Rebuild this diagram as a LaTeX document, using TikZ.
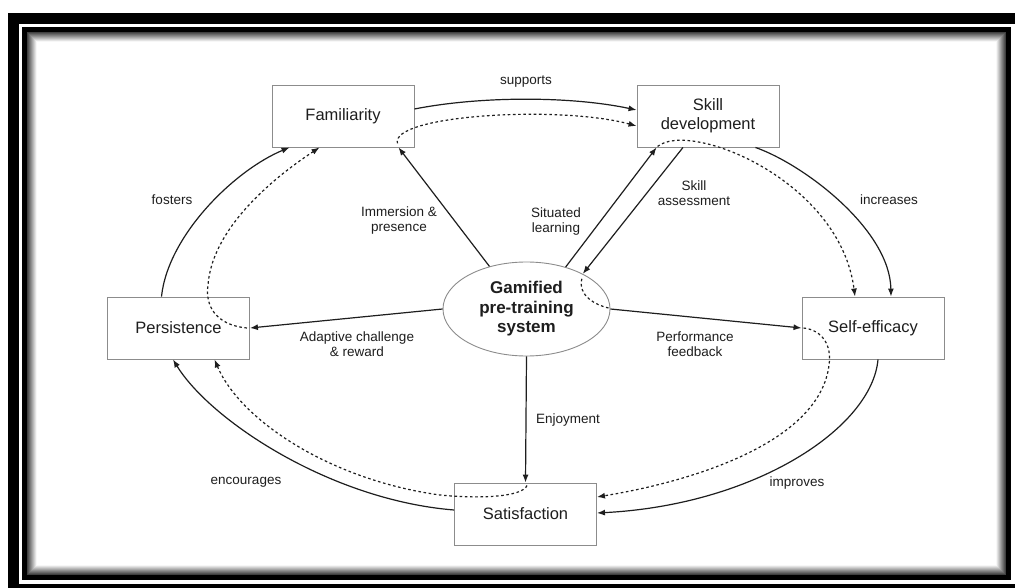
\documentclass[tikz,border=0pt]{standalone}
\usepackage{fontspec}
\setmainfont{Liberation Sans}
\usetikzlibrary{shapes.geometric,arrows.meta,calc}
\definecolor{ink}{HTML}{1E1E1E}
\definecolor{boxline}{HTML}{8C8C8C}
\tikzset{
  box/.style={draw=boxline,line width=0.9pt,minimum width=142pt,minimum height=62pt,inner sep=0pt,
    align=center,text=ink,font=\fontsize{16.5}{19}\selectfont},
  lbl/.style={align=center,text=ink,font=\fontsize{13.5}{15}\selectfont,inner sep=0pt},
  link/.style={draw=ink,line width=1.2pt,-{Latex[length=8pt,width=6pt]}},
  dlink/.style={draw=ink,line width=1.2pt,dash pattern=on 2.6pt off 2.6pt,-{Latex[length=8pt,width=6pt]}},
  dline/.style={draw=ink,line width=1.2pt,dash pattern=on 2.6pt off 2.6pt}
}
\begin{document}
\begin{tikzpicture}[x=1pt,y=-1pt]
\useasboundingbox (0,0) rectangle (1015,588);
% frame
\fill[black] (8,13) rectangle (1015,588);
\fill[white] (19,24) rectangle (1015,584);
\fill[black] (22,27) rectangle (1011,580);
\foreach \i in {0,1,...,10}{
  \pgfmathsetmacro\g{max(0,75-\i*8)}
  \fill[black!\g] (27+\i,32+\i) rectangle (1006-\i,575-\i);
}
\fill[white] (38,43) rectangle (995,564);

% nodes
\node[box] (fam) at (343,116) {Familiarity};
\node[box] (skill) at (708,116) {Skill\\development};
\node[box] (pers) at (178.5,328) {Persistence};
\node[box] (self) at (873,328) {Self-efficacy};
\node[box] (sat) at (525.5,514) {Satisfaction};
\node[ellipse,draw=boxline,line width=0.9pt,minimum width=167pt,minimum height=94pt,inner sep=0pt,
  align=center,text=ink,font=\bfseries\fontsize{17}{19.5}\selectfont] (gps) at (526.5,309)
  {Gamified\\pre-training\\system};

% labels
\node[lbl] (lsup) at (526,82) {supports};
\node[lbl] (lfos) at (172,200) {fosters};
\node[lbl] (limm) at (399,221) {Immersion \&\\presence};
\node[lbl] (lsit) at (556,222) {Situated\\learning};
\node[lbl] (lass) at (694,193) {Skill\\assessment};
\node[lbl] (linc) at (889,200) {increases};
\node[lbl] (lada) at (357,344) {Adaptive challenge\\\& reward};
\node[lbl] (lper) at (695,344) {Performance\\feedback};
\node[lbl] (lenj) at (568,420) {Enjoyment};
\node[lbl] (limp) at (797,483) {improves};
\node[lbl] (lenc) at (246,482) {encourages};

% centre spokes
\draw[link] (gps.131) -- ($(fam.south east)+(-16,0)$);
\draw[link] (gps.47) -- ($(skill.south west)+(20,0)$);
\draw[link] ($(skill.south)+(-25,0)$) -- (gps.32);
\draw[link] (gps.east) -- (self.west);
\draw[link] (gps.west) -- (pers.east);
\draw[link] (gps.south) -- (sat.north);
\draw[dline] ($(gps.32)+(-1,5)$) .. controls +(-4,17) and +(-13,-3) .. ($(gps.east)+(-2,-1)$);

% outer cycle (solid)
\draw[link] ($(fam.east)+(0,-7)$) .. controls +(66,-13) and +(-66,-14) .. ($(skill.west)+(0,-6)$);
\draw[link] ($(skill.south east)+(-24,0)$) .. controls (805,165) and (890,230) .. ($(self.north)+(18,0)$);
\draw[link] ($(self.south)+(5,0)$) .. controls (872,428) and (755,505) .. ($(sat.east)+(0,-1)$);
\draw[link] ($(sat.west)+(0,-4)$) .. controls (330,500) and (210,420) .. ($(pers.south)+(-5.5,0)$);
\draw[link] ($(pers.north)+(-17,0)$) .. controls (168,235) and (235,170) .. ($(fam.south west)+(18,0)$);

% outer cycle (dashed)
\draw[dlink] ($(fam.south east)+(-17,-4)$) .. controls (390,115) and (560,105) .. ($(skill.west)+(0,10)$);
\draw[dlink] ($(skill.south west)+(21,-1)$) .. controls (690,120) and (840,180) .. ($(self.north)+(-18,0)$);
\draw[dlink] ($(self.west)+(2,0)$) .. controls (822,330) and (832,345) .. (829,365)
  .. controls (820,440) and (700,480) .. ($(sat.east)+(0,-17)$);
\draw[dlink] ($(sat.north)+(1.5,3)$) .. controls (522,497) and (480,499) .. (440,495)
  .. controls (330,480) and (240,420) .. ($(pers.south)+(36,0)$);
\draw[dlink] ($(pers.east)+(-3,0)$) .. controls (215,325) and (205,305) .. (208,285)
  .. controls (212,230) and (270,180) .. ($(fam.south west)+(48,0)$);
\end{tikzpicture}
\end{document}
